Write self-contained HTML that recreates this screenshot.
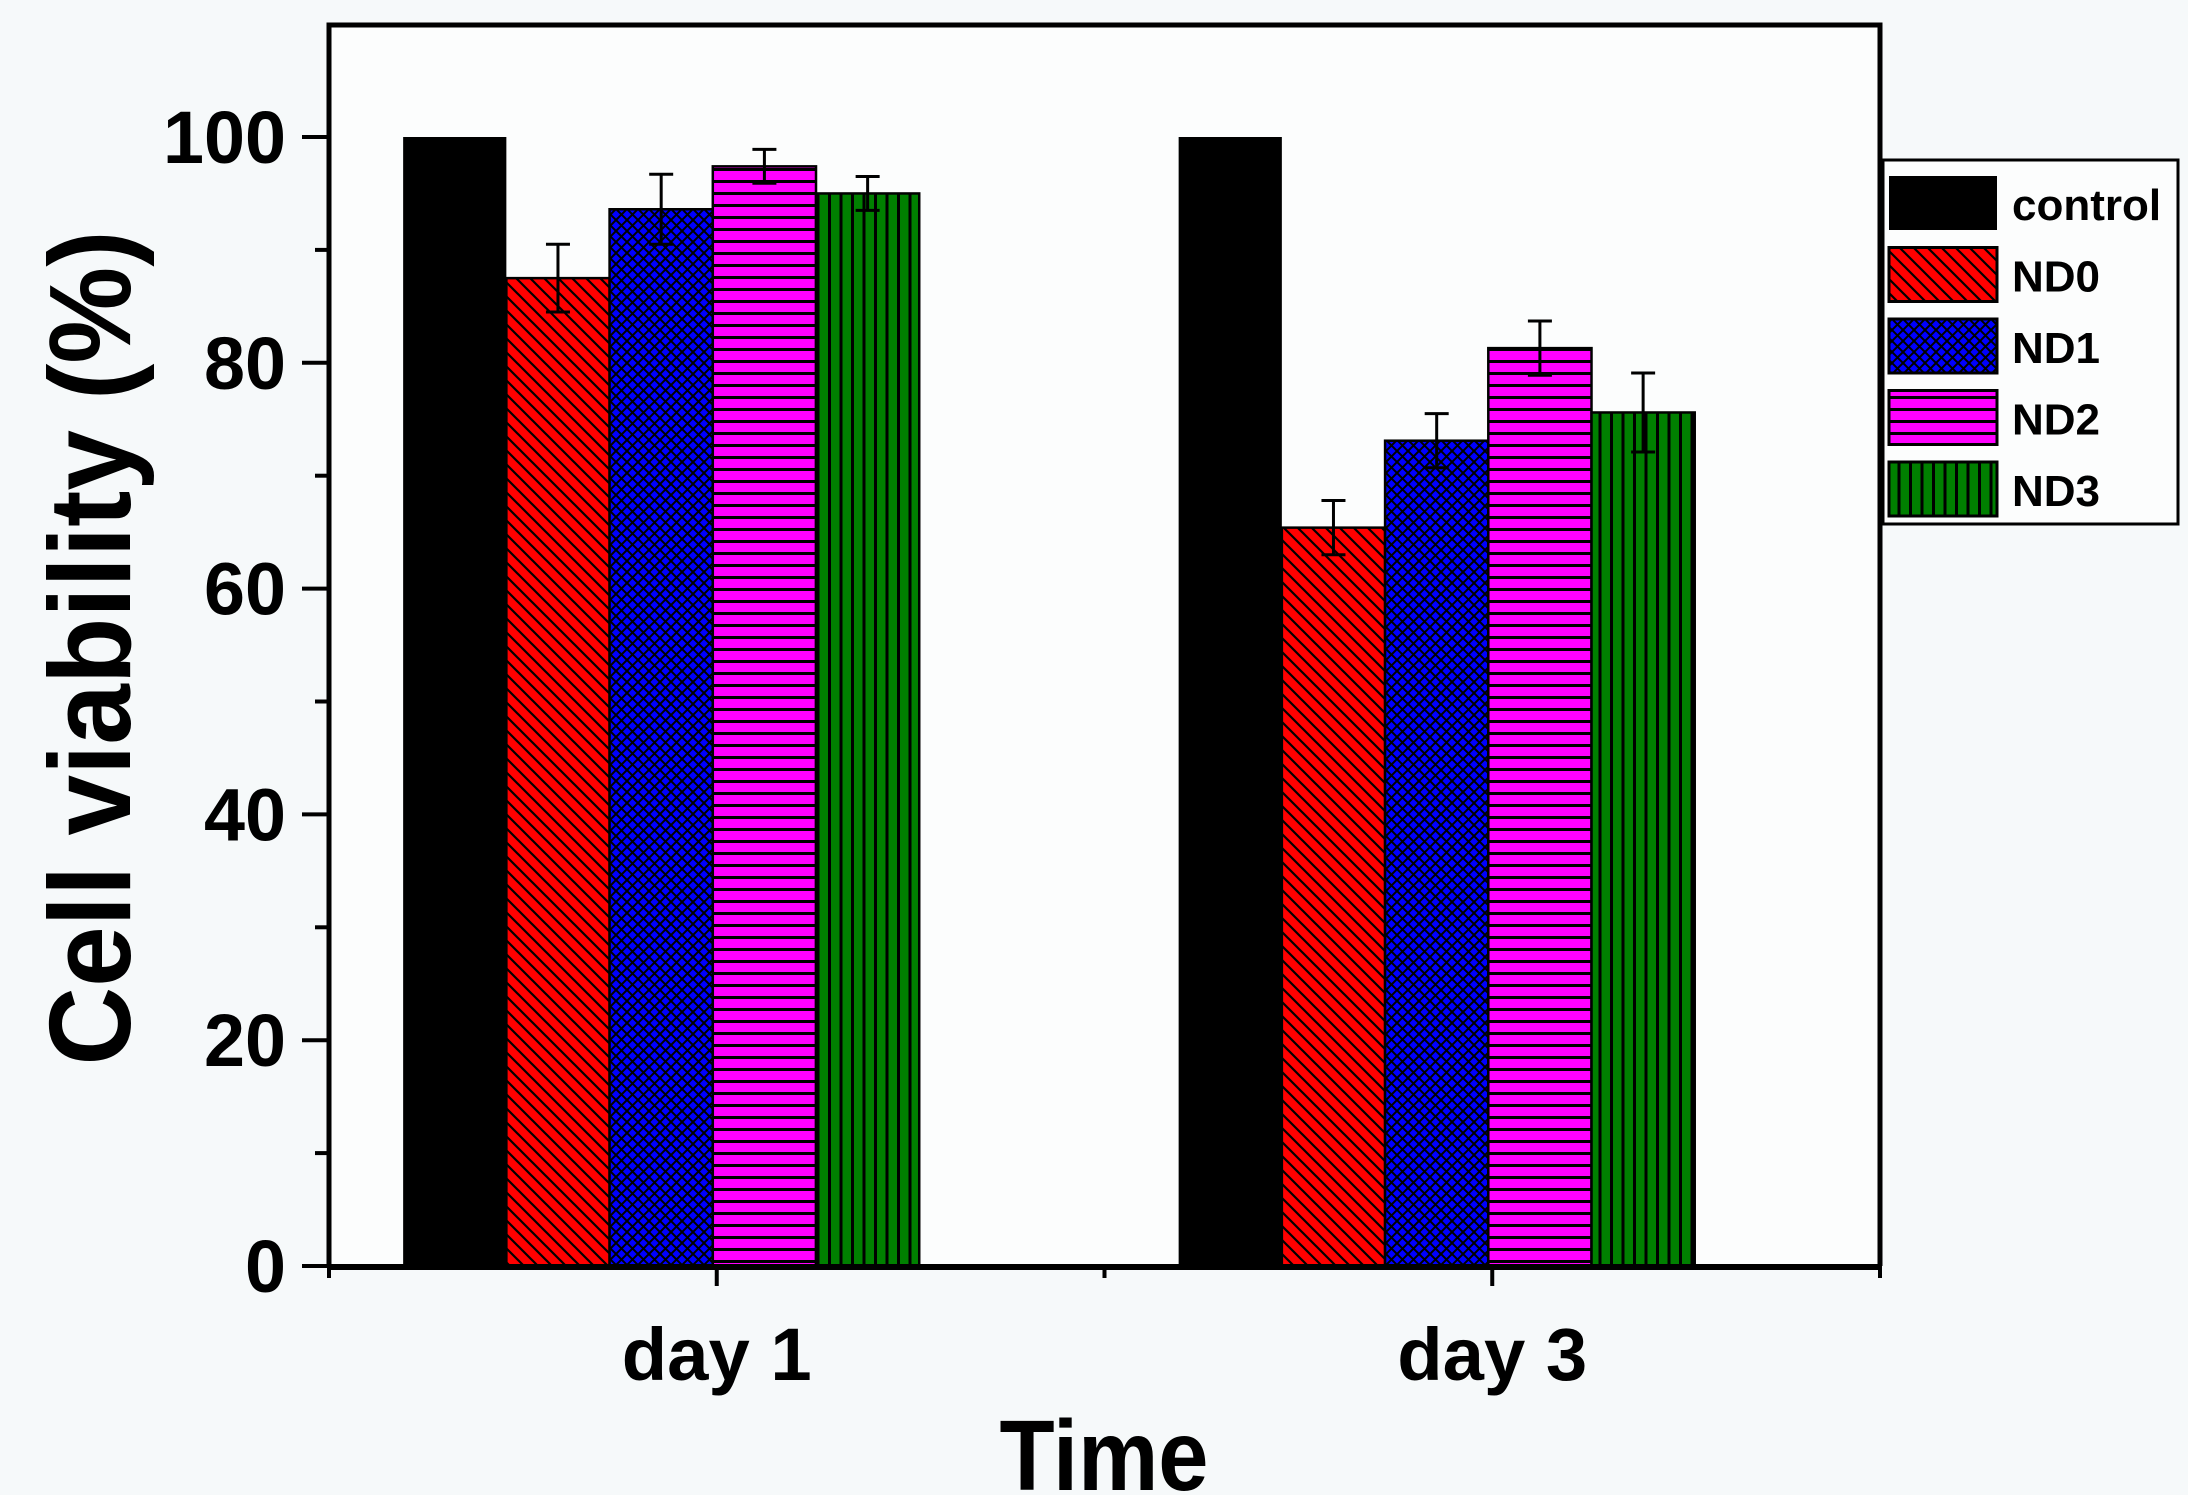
<!DOCTYPE html>
<html><head><meta charset="utf-8"><style>
html,body{margin:0;padding:0;background:#f6f9fa;}
svg{display:block;font-family:"Liberation Sans",Arial,sans-serif;font-weight:bold;}
</style></head><body>
<svg id="chart" width="2188" height="1495" viewBox="0 0 2188 1495" xmlns="http://www.w3.org/2000/svg">
<defs>
<pattern id="pND0" patternUnits="userSpaceOnUse" width="14" height="14"><rect width="14" height="14" fill="#ff0000"/><path d="M-3,-3 L17,17 M-3,11 L3,17 M11,-3 L17,3" stroke="#000" stroke-width="2.2"/></pattern>
<pattern id="pND1" patternUnits="userSpaceOnUse" width="11" height="11"><rect width="11" height="11" fill="#0000ff"/><path d="M0,0 L11,11 M11,0 L0,11" stroke="#000" stroke-width="2"/></pattern>
<pattern id="pND2" patternUnits="userSpaceOnUse" width="12" height="12"><rect width="12" height="12" fill="#ff00ff"/><rect y="0" width="12" height="3" fill="#000"/></pattern>
<pattern id="pND3" patternUnits="userSpaceOnUse" width="11.5" height="12"><rect width="11.5" height="12" fill="#008000"/><rect x="0" width="3" height="12" fill="#000"/></pattern>
</defs>
<rect x="0" y="0" width="2188" height="1495" fill="#f6f9fa"/>
<rect x="329" y="25" width="1551" height="1241" fill="#fcfdfd"/>
<g id="bars"></g>
<g id="axes"></g>
<text transform="translate(130,648) rotate(-90)" text-anchor="middle" font-size="116" textLength="835" lengthAdjust="spacingAndGlyphs">Cell viability (%)</text>
<text x="1104" y="1490" text-anchor="middle" font-size="100" textLength="209" lengthAdjust="spacingAndGlyphs">Time</text>
<g>
<rect x="1883" y="160" width="295" height="364" fill="#fcfdfd" stroke="#000" stroke-width="3"/>
<g id="legend-items"></g>
</g>
</svg>
<script>
const categories = ["day 1", "day 3"];
const seriesNames = ["control", "ND0", "ND1", "ND2", "ND3"];
const controlVals = [100, 100];
const nd0Vals = [87.5, 65.4];
const nd1Vals = [93.6, 73.1];
const nd2Vals = [97.4, 81.3];
const nd3Vals = [95.0, 75.6];
const nd0Err = [3.0, 2.4];
const nd1Err = [3.1, 2.4];
const nd2Err = [1.5, 2.4];
const nd3Err = [1.5, 3.5];
const yTicks = [0, 20, 40, 60, 80, 100];

const NS = "http://www.w3.org/2000/svg";
const X0 = 329, X1 = 1880, Y0 = 1266, Ytop = 25;
const xs = v => X0 + (v - 0.5) * (X1 - X0) / 2.0;
const ys = v => Y0 - v * 11.29;
const fills = ["#000", "url(#pND0)", "url(#pND1)", "url(#pND2)", "url(#pND3)"];
const allVals = [controlVals, nd0Vals, nd1Vals, nd2Vals, nd3Vals];
const allErr = [null, nd0Err, nd1Err, nd2Err, nd3Err];
const barW = 0.1331, off = -0.4044;
function mk(tag, attrs, parent) {
  const e = document.createElementNS(NS, tag);
  for (const k in attrs) e.setAttribute(k, attrs[k]);
  parent.appendChild(e);
  return e;
}
const bars = document.getElementById("bars");
categories.forEach((c, ci) => {
  seriesNames.forEach((s, si) => {
    const v = allVals[si][ci];
    const xa = xs(ci + 1 + off + si * barW), xb = xs(ci + 1 + off + (si + 1) * barW);
    const r = mk("rect", {x: xa, y: ys(v), width: xb - xa, height: ys(0) - ys(v), fill: fills[si], stroke: "#000", "stroke-width": si === 0 ? 0 : 2.5}, bars);
    
    
    if (allErr[si]) {
      const e = allErr[si][ci], cx = (xa + xb) / 2;
      const g = mk("path", {d: `M${cx},${ys(v + e)} L${cx},${ys(v - e)} M${cx - 12},${ys(v + e)} L${cx + 12},${ys(v + e)} M${cx - 12},${ys(v - e)} L${cx + 12},${ys(v - e)}`, stroke: "#000", "stroke-width": 3, fill: "none"}, bars);
      
      
    }
  });
});
const axes = document.getElementById("axes");
mk("path", {d: `M${X0},${Y0} L${X0},${Ytop} L${X1},${Ytop} L${X1},${Y0}`, stroke: "#000", "stroke-width": 5, fill: "none"}, axes);
const xl = mk("line", {x1: X0 - 2, y1: Y0 + 1, x2: X1 + 2, y2: Y0 + 1, stroke: "#000", "stroke-width": 6}, axes);


for (let t = 0; t <= 100; t += 10) {
  const major = t % 20 === 0;
  mk("line", {x1: X0 - (major ? 27 : 14), y1: ys(t), x2: X0, y2: ys(t), stroke: "#000", "stroke-width": 4}, axes);
}
yTicks.forEach(t => {
  const s = String(t);
  const tx = mk("text", {x: 286, y: ys(t) + 26, "text-anchor": "end", "font-size": 74, textLength: s.length * 41, lengthAdjust: "spacingAndGlyphs"}, axes);
  tx.textContent = s;
  
  
});
[0.5, 1, 1.5, 2, 2.5].forEach(v => {
  const major = Number.isInteger(v);
  mk("line", {x1: xs(v), y1: Y0, x2: xs(v), y2: Y0 + (major ? 20 : 12), stroke: "#000", "stroke-width": 4}, axes);
});
categories.forEach((c, ci) => {
  const tx = mk("text", {x: xs(ci + 1), y: 1380, "text-anchor": "middle", "font-size": 74, textLength: 190, lengthAdjust: "spacingAndGlyphs"}, axes);
  tx.textContent = c;
  
  
});
const li = document.getElementById("legend-items");
seriesNames.forEach((s, si) => {
  const y = 176 + si * 71.5;
  const r = mk("rect", {x: 1889, y: y, width: 108, height: 54, fill: fills[si], stroke: "#000", "stroke-width": si === 0 ? 0 : 3}, li);
  
  
  const tx = mk("text", {x: 2012, y: y + 44, "font-size": 44}, li);
  tx.textContent = s;
  
  
});
</script>
</body></html>
